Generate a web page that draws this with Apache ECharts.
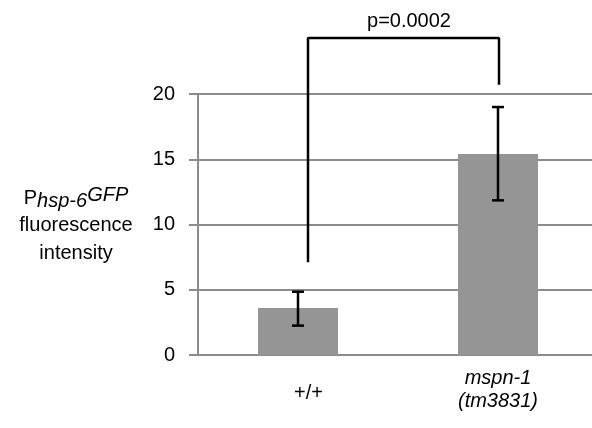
<!DOCTYPE html>
<html>
<head>
<meta charset="utf-8">
<script src="https://cdn.jsdelivr.net/npm/echarts@6/dist/echarts.min.js"></script>
<style>
  html, body { margin: 0; padding: 0; background: #fff; }
  #chart { width: 592px; height: 428px; }
</style>
</head>
<body>
<div id="chart"></div>
<script>
// ============================
// Datos
// ============================
var categorias = ["+/+", "mspn-1\n(tm3831)"];
var medias = [3.6, 15.4];
var errorBajo = [2.25, 11.85];
var errorAlto = [4.85, 19.0];

// corchete de significancia (x en unidades de categoria, y en valores)
var corcheteX = [0.55, 0.55, 1.505, 1.505];
var corcheteY = [7.1, 24.3, 24.3, 20.7];
var pTexto = "p=0.0002";

var gris = "#8c8c8c";
var fuente = "Liberation Sans, Arial, sans-serif";

var chart = echarts.init(document.getElementById("chart"));

chart.setOption({
    animation: false,
    backgroundColor: "#fff",
    grid: { left: 198, top: 94, bottom: 73, width: 400, outerBoundsMode: "none", containLabel: false },
    xAxis: [
        {
            type: "category",
            data: categorias,
            axisLine: { lineStyle: { color: gris, width: 2 } },
            axisTick: { show: false },
            axisLabel: {
                margin: 35,
                verticalAlign: "middle",
                formatter: function (v) {
                    if (v === "+/+") return "{n|" + v + "}";
                    return v.split("\n").map(function (s) { return "{i|" + s + "}"; }).join("\n");
                },
                rich: {
                    n: { fontSize: 20, fontFamily: fuente, color: "#000", padding: [6, 0, 0, 21] },
                    i: { fontSize: 20, fontFamily: fuente, color: "#000", fontStyle: "italic", lineHeight: 23 }
                }
            }
        },
        { type: "value", min: 0, max: 2, show: false }
    ],
    yAxis: {
        type: "value",
        min: 0,
        max: 20,
        interval: 5,
        axisLine: { show: true, lineStyle: { color: gris, width: 2 } },
        axisTick: { show: true, length: 9, lineStyle: { color: gris, width: 2 } },
        splitLine: { lineStyle: { color: gris, width: 2 } },
        axisLabel: { margin: 23, fontSize: 20, fontFamily: fuente, color: "#000" }
    },
    graphic: [
        {
            type: "text",
            x: 76, y: 198,
            style: {
                text: "{p|P}{s|hsp-6}{g|GFP}",
                align: "center",
                verticalAlign: "middle",
                rich: {
                    p: { fontSize: 20, fontFamily: fuente, fill: "#000", lineHeight: 26 },
                    s: { fontSize: 20, fontFamily: fuente, fill: "#000", fontStyle: "italic", lineHeight: 20, verticalAlign: "bottom" },
                    g: { fontSize: 20, fontFamily: fuente, fill: "#000", fontStyle: "italic", lineHeight: 20, verticalAlign: "top" }
                }
            }
        },
        {
            type: "text",
            x: 76, y: 225,
            style: { text: "fluorescence", font: "20px " + fuente, fill: "#000", align: "center", verticalAlign: "middle" }
        },
        {
            type: "text",
            x: 76, y: 253,
            style: { text: "intensity", font: "20px " + fuente, fill: "#000", align: "center", verticalAlign: "middle" }
        },
        {
            type: "text",
            x: 409, y: 21,
            style: { text: pTexto, font: "20px " + fuente, fill: "#000", align: "center", verticalAlign: "middle" }
        }
    ],
    series: [
        {
            type: "bar",
            data: medias,
            barWidth: 80,
            itemStyle: { color: "#959595" },
            z: 1
        },
        {
            type: "custom",
            z: 5,
            data: categorias.map(function (c, i) { return [i, errorBajo[i], errorAlto[i]]; }),
            renderItem: function (params, api) {
                var bajo = api.coord([api.value(0), api.value(1)]);
                var alto = api.coord([api.value(0), api.value(2)]);
                var x = bajo[0];
                var cap = 6;
                var estilo = { stroke: "#000", lineWidth: 2.5 };
                return {
                    type: "group",
                    children: [
                        { type: "line", shape: { x1: x, y1: bajo[1], x2: x, y2: alto[1] }, style: estilo },
                        { type: "line", shape: { x1: x - cap, y1: bajo[1], x2: x + cap, y2: bajo[1] }, style: estilo },
                        { type: "line", shape: { x1: x - cap, y1: alto[1], x2: x + cap, y2: alto[1] }, style: estilo }
                    ]
                };
            }
        },
        {
            type: "line",
            xAxisIndex: 1,
            data: corcheteX.map(function (x, i) { return [x, corcheteY[i]]; }),
            symbol: "none",
            clip: false,
            lineStyle: { color: "#000", width: 2.5 },
            z: 6
        }
    ]
});
</script>
</body>
</html>
